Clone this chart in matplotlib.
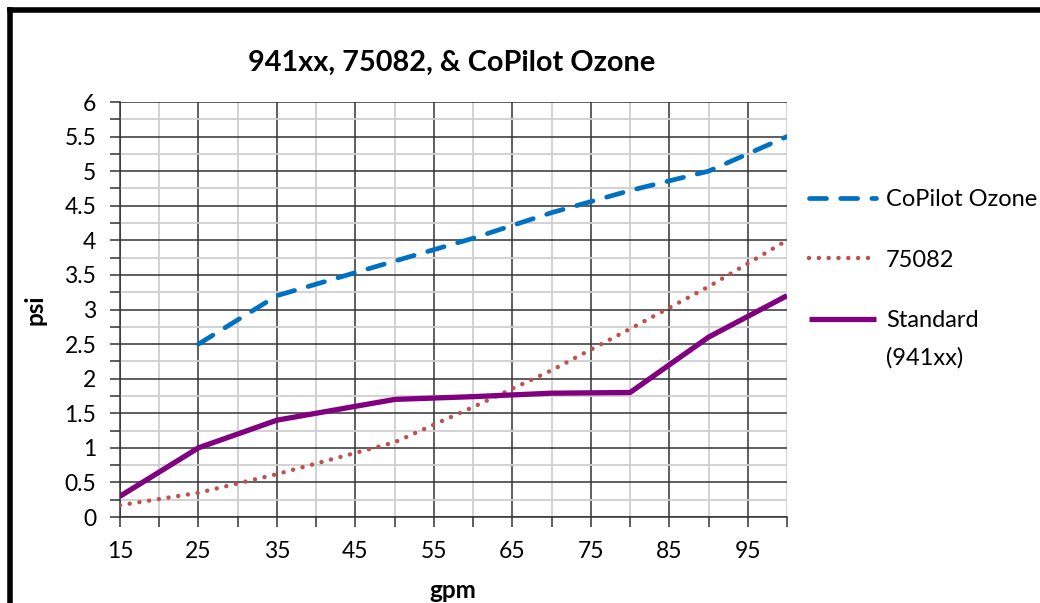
import numpy as np
import matplotlib
matplotlib.use("Agg")
import matplotlib.pyplot as plt
from matplotlib.lines import Line2D
from matplotlib.ticker import MultipleLocator

# ─────────────────────────────────────────────
# DATA
# ─────────────────────────────────────────────
copilot_gpm = [25, 35, 50, 60, 70, 80, 90, 100]
copilot_psi = [2.5, 3.2, 3.7, 4.03, 4.4, 4.72, 5.0, 5.5]

m75082_gpm = [15, 25, 35, 50, 60, 70, 80, 90, 100]
m75082_psi = [0.17, 0.35, 0.62, 1.08, 1.59, 2.12, 2.72, 3.33, 4.0]

std_gpm = [15, 25, 35, 50, 60, 70, 80, 90, 100]
std_psi = [0.3, 1.0, 1.4, 1.7, 1.74, 1.79, 1.8, 2.6, 3.2]

TITLE = "941xx, 75082, & CoPilot Ozone"
X_LABEL = "gpm"
Y_LABEL = "psi"
X_TICKS = [15, 25, 35, 45, 55, 65, 75, 85, 95]
Y_TICKS = [0, 0.5, 1, 1.5, 2, 2.5, 3, 3.5, 4, 4.5, 5, 5.5, 6]

# ─────────────────────────────────────────────
# STYLE
# ─────────────────────────────────────────────
plt.rcParams["font.family"] = ["Lato", "DejaVu Sans"]
BLUE   = "#0070C0"
RED    = "#C0504D"
PURPLE = "#800080"
MAJOR  = "#333333"
MINOR  = "#cfcfcf"
W, H   = 1040, 603

fig = plt.figure(figsize=(W / 100, H / 100), dpi=100)
ax = fig.add_axes([120 / W, 1 - 517 / H, 667 / W, 415 / H])

# grid
ax.set_xlim(15, 100)
ax.set_ylim(0, 6)
ax.set_xticks(X_TICKS)
ax.set_yticks(Y_TICKS)
ax.set_yticklabels([f"{v:g}" for v in Y_TICKS])
ax.xaxis.set_minor_locator(MultipleLocator(5))
ax.yaxis.set_minor_locator(MultipleLocator(0.25))
ax.grid(which="minor", color=MINOR, linewidth=1.3, zorder=0)
ax.grid(which="major", color=MAJOR, linewidth=1.1, zorder=1)
ax.set_axisbelow(True)

ax.tick_params(which="both", direction="out", length=7, width=1.1, color=MAJOR)
ax.tick_params(axis="x", which="major", labelsize=16.5, pad=10)
ax.tick_params(axis="y", which="major", labelsize=16.5, pad=10)

for side in ["top", "right"]:
    ax.spines[side].set_visible(False)
for side in ["left", "bottom"]:
    ax.spines[side].set_color(MAJOR)
    ax.spines[side].set_linewidth(1.1)

# series
ax.plot(copilot_gpm, copilot_psi, color=BLUE, linewidth=3.4,
        linestyle=(0, (3.6, 3.0)), dash_capstyle="round", label="CoPilot Ozone", zorder=3)
ax.plot(m75082_gpm, m75082_psi, color=RED, linewidth=3.2,
        linestyle=(0, (0.01, 2.2)), dash_capstyle="round", label="75082", zorder=3)
ax.plot(std_gpm, std_psi, color=PURPLE, linewidth=3.8,
        solid_capstyle="butt", label="Standard", zorder=4)

# labels
fig.text(452 / W, 1 - 63 / H, TITLE, ha="center", va="center",
         fontsize=20.8, fontweight="bold")
fig.text(453 / W, 1 - 590 / H, X_LABEL, ha="center", va="center",
         fontsize=17.5, fontweight="bold")
fig.text(35 / W, 1 - 310 / H, Y_LABEL, ha="center", va="center",
         fontsize=17.5, fontweight="bold", rotation=90)

leg = ax.legend(loc="upper left", bbox_to_anchor=(809 / W, 1 - 189 / H),
                bbox_transform=fig.transFigure, frameon=False, fontsize=17,
                handlelength=2.85, handletextpad=0.42, labelspacing=1.68,
                borderpad=0, borderaxespad=0)

# second line of the last legend label, set below its first line
fig.canvas.draw()
bb = leg.get_texts()[2].get_window_extent()
fig.text(bb.x0 / W, (bb.y0 - 37) / H, "(941xx)", ha="left", va="bottom", fontsize=17)

# chart border (top and left only visible in the reference)
fig.add_artist(Line2D([9.5 / W, 9.5 / W], [0, 1 - 9.5 / H],
                      transform=fig.transFigure, color="black", linewidth=4,
                      solid_capstyle="projecting"))
fig.add_artist(Line2D([9.5 / W, 1], [1 - 9.5 / H, 1 - 9.5 / H],
                      transform=fig.transFigure, color="black", linewidth=4,
                      solid_capstyle="projecting"))

fig.savefig("out.png", dpi=100)
